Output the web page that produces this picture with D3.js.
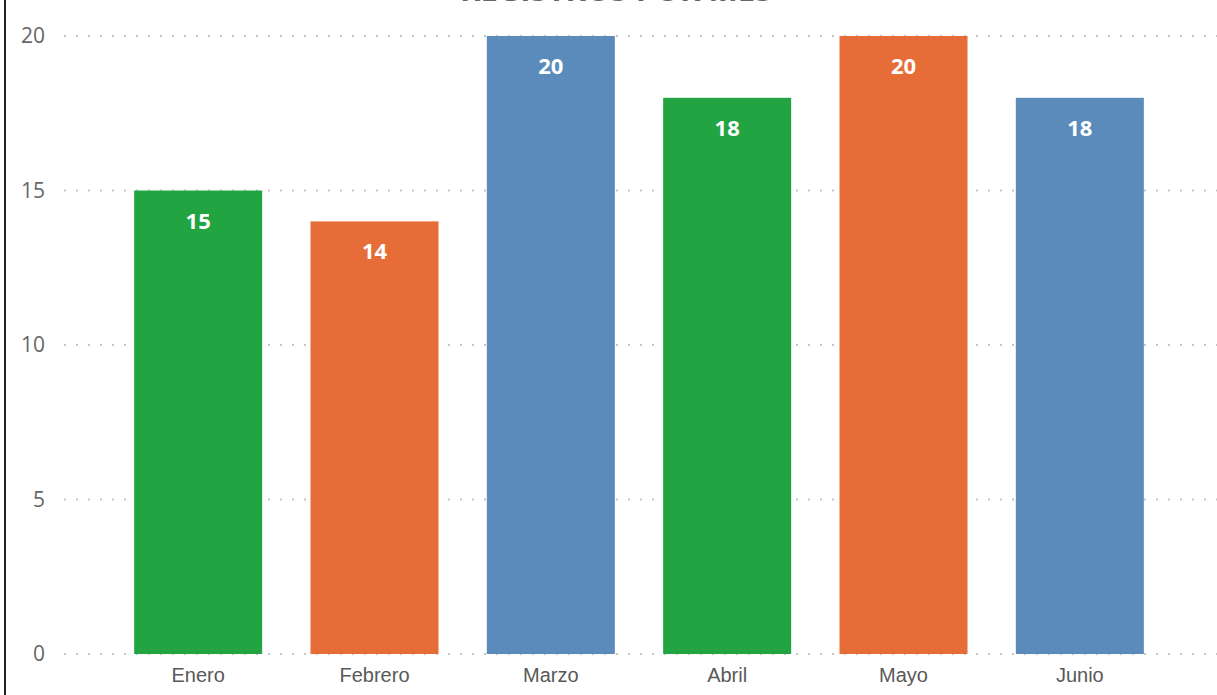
<!DOCTYPE html>
<html>
<head>
<meta charset="utf-8">
<script src="https://cdn.jsdelivr.net/npm/d3@7"></script>
<style>
  body { margin: 0; background: #fff; }
  svg { display: block; }
</style>
</head>
<body>
<svg id="chart" width="1217" height="695"></svg>
<script>
const months = ["Enero", "Febrero", "Marzo", "Abril", "Mayo", "Junio"];
const values = [15, 14, 20, 18, 20, 18];
const barColors = ["#22a443", "#e66d37", "#5b8bbb", "#22a443", "#e66d37", "#5b8bbb"];
const yTicks = [0, 5, 10, 15, 20];
const title = "REGISTROS POR MES";

const svg = d3.select("#chart");

const x = d3.scaleBand()
    .domain(months)
    .range([110, 1168])
    .paddingInner(0.274)
    .paddingOuter(0.137);

const y = d3.scaleLinear()
    .domain([0, 20])
    .range([654, 36]);

// frame line on the left
svg.append("line")
    .attr("x1", 5).attr("x2", 5)
    .attr("y1", 0).attr("y2", 695)
    .attr("stroke", "#222")
    .attr("stroke-width", 2);

// title, mostly cut off at the top
svg.append("text")
    .attr("x", 616)
    .attr("y", 1)
    .attr("text-anchor", "middle")
    .attr("fill", "#666")
    .style("font-family", "'Open Sans', sans-serif")
    .style("font-size", "31px")
    .style("font-weight", "700")
    .text(title);

// dotted grid
svg.append("g")
    .selectAll("line")
    .data(yTicks)
    .join("line")
    .attr("x1", 64).attr("x2", 1217)
    .attr("y1", d => y(d)).attr("y2", d => y(d))
    .attr("stroke", "#c4c4c4")
    .attr("stroke-width", 2)
    .attr("stroke-dasharray", "2,10");

// y tick labels
svg.append("g")
    .selectAll("text")
    .data(yTicks)
    .join("text")
    .attr("x", 45)
    .attr("y", d => y(d))
    .attr("dy", "0.35em")
    .attr("text-anchor", "end")
    .attr("fill", "#666")
    .style("font-family", "'Open Sans', sans-serif")
    .style("font-size", "21px")
    .text(d => d);

// bars
svg.append("g")
    .selectAll("rect")
    .data(values)
    .join("rect")
    .attr("x", (d, i) => x(months[i]))
    .attr("y", d => y(d))
    .attr("width", x.bandwidth())
    .attr("height", d => y(0) - y(d))
    .attr("fill", (d, i) => barColors[i]);

// value labels
svg.append("g")
    .selectAll("text")
    .data(values)
    .join("text")
    .attr("x", (d, i) => x(months[i]) + x.bandwidth() / 2)
    .attr("y", d => y(d) + 38)
    .attr("text-anchor", "middle")
    .attr("fill", "#fff")
    .style("font-family", "'Open Sans', sans-serif")
    .style("font-size", "22px")
    .style("font-weight", "700")
    .text(d => d);

// x labels
svg.append("g")
    .selectAll("text")
    .data(months)
    .join("text")
    .attr("x", d => x(d) + x.bandwidth() / 2)
    .attr("y", 682)
    .attr("text-anchor", "middle")
    .attr("fill", "#595959")
    .style("font-family", "'Liberation Sans', Arial, sans-serif")
    .style("font-size", "20px")
    .text(d => d);
</script>
</body>
</html>
